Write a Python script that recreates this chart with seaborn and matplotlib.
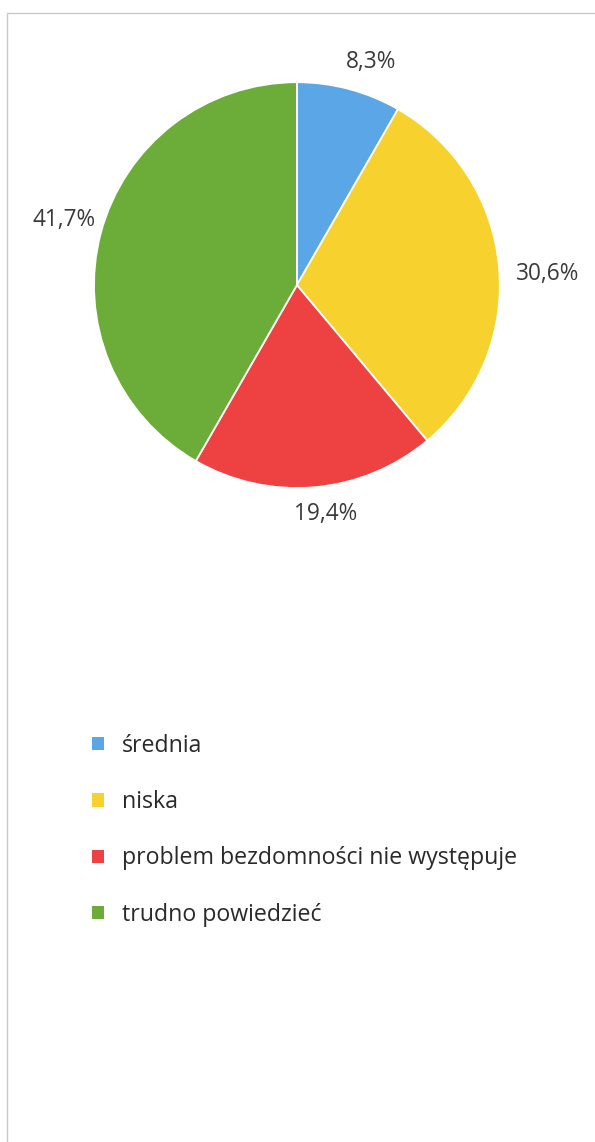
import numpy as np
import matplotlib
matplotlib.use("Agg")
import matplotlib.pyplot as plt
import seaborn as sns
from matplotlib.patches import Rectangle

# --- data ---
categories = ["średnia", "niska", "problem bezdomności nie występuje", "trudno powiedzieć"]
shares = [8.3, 30.6, 19.4, 41.7]
colors = ["#5aa6e6", "#f7d12e", "#ee4141", "#6cad3a"]

sns.set_theme(style="white")
plt.rcParams["font.family"] = ["Open Sans", "DejaVu Sans"]

fig = plt.figure(figsize=(5.95, 11.42), dpi=100)
fig.patch.set_facecolor("white")

# thin grey frame (top and left edges only visible in the scan)
fig.add_artist(Rectangle((7 / 595, -0.1), 2.0, 1.1 - 13 / 1142,
                         transform=fig.transFigure, fill=False,
                         edgecolor="#c9c9c9", linewidth=1.0))

# --- pie ---
ax = fig.add_axes([0.158, 0.5726, 0.682, 0.3555])
wedges, _ = ax.pie(shares, colors=colors, startangle=90, counterclock=False,
                   wedgeprops=dict(edgecolor="white", linewidth=1.3))
ax.set_xlim(-1, 1)
ax.set_ylim(-1, 1)
ax.set_aspect("equal")
ax.axis("off")

# percentage labels outside each wedge (distance, small angle nudge like Excel)
label_dist = [1.158, 1.237, 1.136, 1.189]
label_nudge = [-3.5, -2.5, 2.0, -0.6]
for w, val, d, nud in zip(wedges, shares, label_dist, label_nudge):
    mid = np.deg2rad((w.theta1 + w.theta2) / 2 + nud)
    ax.text(d * np.cos(mid), d * np.sin(mid), f"{val:.1f}%".replace(".", ","),
            ha="center", va="center", fontsize=16.3, color="#3a3a3a", clip_on=False)

# --- legend ---
fig.legend(wedges, categories, loc="upper left",
           bbox_to_anchor=(92 / 595, 1 - 734 / 1142),
           frameon=False, fontsize=16.7, labelcolor="#2a2a2a",
           handlelength=0.5, handleheight=0.5, handletextpad=0.8,
           labelspacing=1.39, borderpad=0, borderaxespad=0)
for h in fig.legends[0].legend_handles:
    h.set_edgecolor("none")

fig.savefig("out.png", dpi=100, facecolor="white")
